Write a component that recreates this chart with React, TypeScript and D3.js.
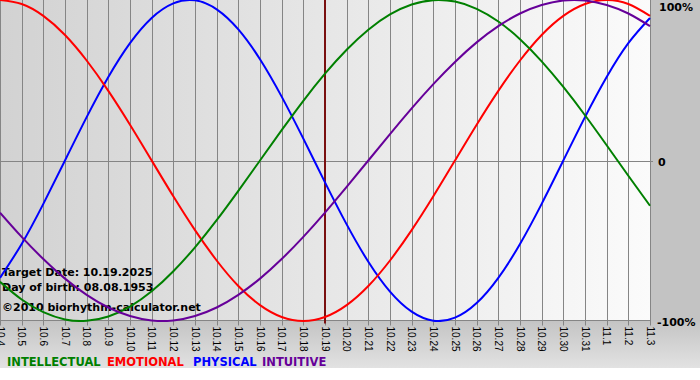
import React from "react";
import * as d3 from "d3";

const days = ["10.4","10.5","10.6","10.7","10.8","10.9","10.10","10.11","10.12","10.13","10.14","10.15","10.16","10.17","10.18","10.19","10.20","10.21","10.22","10.23","10.24","10.25","10.26","10.27","10.28","10.29","10.30","10.31","11.1","11.2","11.3"];

const physical = [-73.1,-52.0,-27.0,0,27.0,52.0,73.1,88.8,97.9,99.8,94.2,81.7,63.1,39.8,13.6,-13.6,-39.8,-63.1,-81.7,-94.2,-99.8,-97.9,-88.8,-73.1,-52.0,-27.0,0,27.0,52.0,73.1,88.8];
const emotional = [100,97.5,90.1,78.2,62.3,43.4,22.3,0,-22.3,-43.4,-62.3,-78.2,-90.1,-97.5,-100,-97.5,-90.1,-78.2,-62.3,-43.4,-22.3,0,22.3,43.4,62.3,78.2,90.1,97.5,100,97.5,90.1];
const intellectual = [-75.6,-86.6,-94.5,-99.0,-99.9,-97.2,-91.0,-81.5,-69.0,-54.1,-37.2,-18.9,0,18.9,37.2,54.1,69.0,81.5,91.0,97.2,99.9,99.0,94.5,86.6,75.6,61.8,45.8,28.2,9.5,-9.5,-28.2];
const intuitive = [-32.5,-47.6,-61.4,-73.6,-83.7,-91.6,-96.9,-99.7,-99.7,-96.9,-91.6,-83.7,-73.6,-61.4,-47.6,-32.5,-16.5,0,16.5,32.5,47.6,61.4,73.6,83.7,91.6,96.9,99.7,99.7,96.9,91.6,83.7];

const yTickValues = [100, 0, -100];
const yTickLabels = ["100%", "0", "-100%"];
const targetDay = "10.19";
const infoLines = ["Target Date: 10.19.2025", "Day of birth: 08.08.1953", "\u00a92010 biorhythm-calculator.net"];

const seriesNames = ["INTELLECTUAL", "EMOTIONAL", "PHYSICAL", "INTUITIVE"];
const seriesColors = ["#008000", "#ff0000", "#0000ff", "#660099"];
const seriesData = [intellectual, emotional, physical, intuitive];
const drawOrder = [2, 1, 0, 3];
const legendX = [7, 107, 193, 262];

export default function App() {
  const W = 700, H = 380;
  const plotL = 0, plotR = 650, plotT = 0, plotB = 321;
  const x = d3.scalePoint<string>().domain(days).range([plotL, plotR]);
  const y = d3.scaleLinear().domain([-100, 100]).range([plotB, plotT]);
  const px = (d: string) => Math.round(x(d) as number) + 0.5;
  const axisY = 320.5;
  const zeroY = Math.round(y(0)) + 0.5;

  const line = (vals: number[]) =>
    d3.line<number>()
      .x((_, i) => x(days[i]) as number)
      .y((v) => y(v))
      .curve(d3.curveNatural)(vals) || "";

  const font = "'DejaVu Sans', Verdana, sans-serif";
  return (
    <svg width={W} height={H} style={{ position: "absolute", left: 0, top: 0, background: "#ffffff" }}>
      <defs>
        <linearGradient id="plotBg" x1="0" y1="0" x2="1" y2="0">
          <stop offset="0" stopColor="#d2d2d2" />
          <stop offset="1" stopColor="#fbfbfb" />
        </linearGradient>
        <linearGradient id="bottomBg" x1="0" y1="0" x2="0" y2="1">
          <stop offset="0" stopColor="#c4c4c4" />
          <stop offset="1" stopColor="#e2e2e2" />
        </linearGradient>
        <clipPath id="plotClip">
          <rect x={plotL} y={plotT} width={plotR - plotL + 1} height={plotB - plotT + 1} />
        </clipPath>
      </defs>
      <rect x={0} y={0} width={W} height={368} fill="#c3c3c3" />
      <rect x={0} y={plotB} width={W} height={368 - plotB} fill="url(#bottomBg)" />
      <rect x={plotL} y={plotT} width={plotR - plotL} height={plotB - plotT} fill="url(#plotBg)" />

      {days.map((d) => (
        <line key={"g" + d} x1={px(d)} x2={px(d)} y1={plotT} y2={axisY + 5} stroke="#858585" strokeWidth={1} />
      ))}
      <line x1={plotL} x2={plotR + 3} y1={zeroY} y2={zeroY} stroke="#858585" strokeWidth={1} />
      <line x1={plotL} x2={plotR + 1} y1={axisY} y2={axisY} stroke="#858585" strokeWidth={1} />

      <text fontFamily={font} fontSize={11} fontWeight="bold" fill="#000">
        {infoLines.map((t, i) => (
          <tspan key={t} x={2} y={[276, 291, 311][i]}>{t}</tspan>
        ))}
      </text>

      <line x1={(x(targetDay) as number)} x2={(x(targetDay) as number)} y1={plotT} y2={axisY + 3} stroke="#7a1010" strokeWidth={2} />

      <g clipPath="url(#plotClip)">
        {drawOrder.map((k) => (
          <path key={seriesNames[k]} d={line(seriesData[k])} fill="none" stroke={seriesColors[k]} strokeWidth={2} />
        ))}
      </g>

      {days.map((d) => (
        <text key={"t" + d} transform={`translate(${(x(d) as number)},${axisY + 6}) rotate(90)`} fontFamily="'Liberation Sans Narrow', 'Arial Narrow', 'Liberation Sans', sans-serif" fontSize={10} dominantBaseline="central" fill="#000">
          {d}
        </text>
      ))}

      {yTickValues.map((v, i) => (
        <text key={"y" + v} x={v === 100 ? 659 : v === 0 ? 658 : 657} y={[11, 166, 326][i]} fontFamily={font} fontSize={11} fontWeight="bold" fill="#000">
          {yTickLabels[i]}
        </text>
      ))}

      {seriesNames.map((n, i) => (
        <text key={n} x={legendX[i]} y={366} fontFamily={font} fontSize={11.5} fontWeight="bold" fill={seriesColors[i]}>
          {n}
        </text>
      ))}
    </svg>
  );
}
